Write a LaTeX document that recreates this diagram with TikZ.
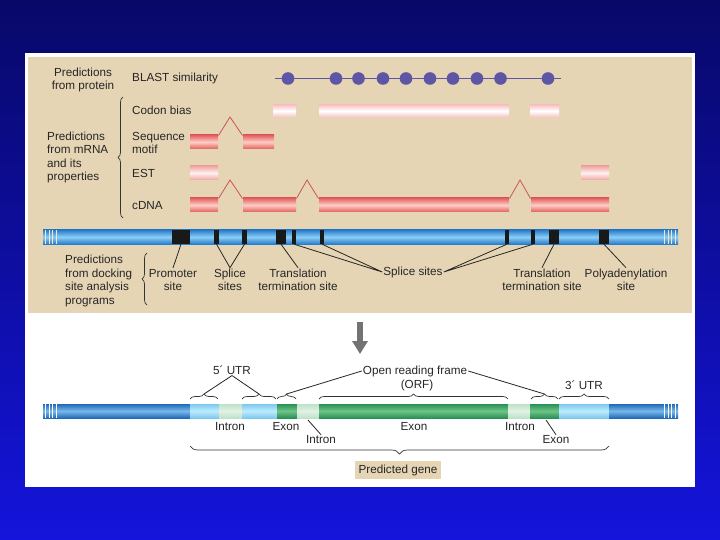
\documentclass[tikz,border=0pt]{standalone}
\usepackage{fontspec}
\setmainfont{Liberation Sans}
\usetikzlibrary{arrows.meta, decorations.pathreplacing, positioning}
\definecolor{slidetop}{RGB}{8,8,105}
\definecolor{slidebot}{RGB}{20,20,220}
\definecolor{tanbg}{RGB}{229,213,181}
\definecolor{blastc}{RGB}{95,85,165}
\definecolor{redc}{RGB}{225,95,95}
\definecolor{redl}{RGB}{255,205,195}
\definecolor{pinkc}{RGB}{250,195,200}
\definecolor{estc}{RGB}{240,165,160}
\definecolor{chromc}{RGB}{40,125,205}
\definecolor{chroml}{RGB}{140,205,245}
\definecolor{darkc}{RGB}{35,105,185}
\definecolor{utrc}{RGB}{125,200,240}
\definecolor{utrl}{RGB}{190,235,252}
\definecolor{exonc}{RGB}{40,145,85}
\definecolor{exonl}{RGB}{110,195,135}
\definecolor{intronc}{RGB}{190,225,200}
\definecolor{intronl}{RGB}{225,243,230}
\tikzstyle{txt} = [inner sep=1pt, font=\fontsize{11.7}{13.6}\selectfont, text=black!85]
\tikzstyle{site} = [rectangle, fill=black!90, inner sep=0pt, minimum height=14pt]
\tikzstyle{pointer} = [black!85, line width=0.8pt]
\tikzstyle{splice} = [redc!90!black, line width=0.8pt]
\tikzstyle{gbrace} = [decorate, decoration={brace, amplitude=5pt}, line width=0.7pt, black!80]
\tikzstyle{redbar} = [top color=redc, bottom color=redc, middle color=redl]
\tikzstyle{pinkbar} = [top color=pinkc, bottom color=pinkc, middle color=white]
\tikzstyle{estbar} = [top color=estc, bottom color=estc, middle color=white!85!estc]
\tikzstyle{chrom} = [top color=chromc, bottom color=chromc, middle color=chroml]
\tikzstyle{dark} = [top color=darkc, bottom color=darkc, middle color=chroml!80!darkc]
\tikzstyle{utr} = [top color=utrc, bottom color=utrc, middle color=utrl]
\tikzstyle{exon} = [top color=exonc, bottom color=exonc, middle color=exonl]
\tikzstyle{intron} = [top color=intronc, bottom color=intronc, middle color=intronl]

\begin{document}
\begin{tikzpicture}[x=1pt, y=-1pt]
    \shade [top color=slidetop, bottom color=slidebot] (0,0) rectangle (720,540);
    \fill [white] (25,53) rectangle (695,487);
    \fill [tanbg] (28,57) rectangle (692,313);

    % predictions from protein
    \node (prot) [txt, align=center] at (83,80) {Predictions\\from protein};
    \node (blast) [txt, anchor=west] at (131,78) {BLAST similarity};
    \draw [blastc, line width=1.5pt] (275,78.5) -- (561,78.5);
    \foreach \x in {288,336,358.5,383,406,430,453,477,500.5,548}
        \fill [blastc] (\x,78.5) circle (6.3pt);

    % predictions from mRNA
    \node (mrna) [txt, anchor=west, align=left] at (46,157.5) {Predictions\\from mRNA\\and its\\properties};
    \draw [gbrace] (123,218) -- (123,97);
    \node (codon) [txt, anchor=west] at (131,110) {Codon bias};
    \node (motif) [txt, anchor=west, align=left] at (131,143) {Sequence\\motif};
    \node (est) [txt, anchor=west] at (131,173) {EST};
    \node (cdna) [txt, anchor=west] at (131,206) {cDNA};

    \shade [pinkbar] (273,105) rectangle (296,117);
    \shade [pinkbar] (319,105) rectangle (509,117);
    \shade [pinkbar] (530,105) rectangle (559,117);

    \shade [redbar] (190,135) rectangle (218,149);
    \shade [redbar] (243,135) rectangle (274,149);
    \draw [splice] (218.5,135.5) -- (230,117) -- (242.5,135.5);

    \shade [estbar] (190,166) rectangle (218,180);
    \shade [estbar] (581,166) rectangle (609,180);

    \shade [redbar] (190,198) rectangle (218,212);
    \shade [redbar] (243,198) rectangle (296,212);
    \shade [redbar] (319,198) rectangle (509,212);
    \shade [redbar] (531,198) rectangle (609,212);
    \draw [splice] (218.5,198.5) -- (230,180) -- (242.5,198.5);
    \draw [splice] (296.5,198.5) -- (307,180) -- (318.5,198.5);
    \draw [splice] (509.5,198.5) -- (520,180) -- (530.5,198.5);

    % chromosome and sites
    \shade [chrom] (43,230) rectangle (678,244);
    \foreach \x in {45.5,49,52.5,56,664.5,668,671.5,675}
        \draw [tanbg!60!white, line width=1pt] (\x,230) -- (\x,244);
    \node (prom) [site, minimum width=18pt] at (181,237) {};
    \node (sp1) [site, minimum width=5pt] at (216.5,237) {};
    \node (sp2) [site, minimum width=5pt] at (244.5,237) {};
    \node (tt1) [site, minimum width=10pt] at (281,237) {};
    \node (sp3) [site, minimum width=4.5pt] at (294,237) {};
    \node (sp4) [site, minimum width=4.5pt] at (322,237) {};
    \node (sp5) [site, minimum width=4.5pt] at (507,237) {};
    \node (sp6) [site, minimum width=4.5pt] at (533,237) {};
    \node (tt2) [site, minimum width=10pt] at (554,237) {};
    \node (poly) [site, minimum width=10pt] at (604,237) {};

    \node (dock) [txt, anchor=west, align=left] at (64,281) {Predictions\\from docking\\site analysis\\programs};
    \draw [gbrace] (147,305) -- (147,253);
    \node (promtxt) [txt, align=center] at (173,280) {Promoter\\site};
    \node (spltxt) [txt, align=center] at (230,280) {Splice\\sites};
    \node (tttxt) [txt, align=center] at (298,280) {Translation\\termination site};
    \node (splmid) [txt] at (413,272) {Splice sites};
    \node (tttxt2) [txt, align=center] at (542,280) {Translation\\termination site};
    \node (polytxt) [txt, align=center] at (626,280) {Polyadenylation\\site};
    \draw [pointer] (prom.south) -- (promtxt.north);
    \draw [pointer] (sp1.south) -- (spltxt.north) -- (sp2.south);
    \draw [pointer] (tt1.south) -- (tttxt.north);
    \draw [pointer] (sp3.south) -- (splmid.west) -- (sp4.south);
    \draw [pointer] (sp5.south) -- (splmid.east) -- (sp6.south);
    \draw [pointer] (tt2.south) -- (tttxt2.north);
    \draw [pointer] (poly.south) -- (polytxt.north);

    % arrow down
    \coordinate (arrtop) at (360,322);
    \coordinate (arrbot) at (360,354);
    \draw [-{Triangle[width=15pt,length=13pt]}, line width=6pt, black!55] (arrtop) -- (arrbot);

    % predicted gene
    \shade [dark] (43,404) rectangle (190,418);
    \shade [utr] (190,404) rectangle (219,418);
    \shade [intron] (219,404) rectangle (242,418);
    \shade [utr] (242,404) rectangle (277,418);
    \shade [exon] (277,404) rectangle (297,418);
    \shade [intron] (297,404) rectangle (319,418);
    \shade [exon] (319,404) rectangle (508,418);
    \shade [intron] (508,404) rectangle (530,418);
    \shade [exon] (530,404) rectangle (559,418);
    \shade [utr] (559,404) rectangle (609,418);
    \shade [dark] (609,404) rectangle (678,418);
    \foreach \x in {45.5,49,52.5,56,664.5,668,671.5,675}
        \draw [white, line width=1pt] (\x,404) -- (\x,418);

    \draw [gbrace] (190,399) -- (218,399);
    \draw [gbrace] (242,399) -- (276,399);
    \draw [gbrace] (277,399) -- (296,399);
    \draw [gbrace] (319,399) -- (508,399);
    \draw [gbrace] (531,399) -- (558,399);
    \draw [gbrace] (559,399) -- (609,399);
    \coordinate (u1) at (204,394);
    \coordinate (u2) at (259,394);
    \coordinate (o1) at (286.5,394);
    \coordinate (o3) at (544.5,394);

    \node (utr5) [txt] at (232,370) {5´ UTR};
    \node (orf) [txt] at (415,371) {Open reading frame};
    \node (orfb) [txt] at (417,385) {(ORF)};
    \node (utr3) [txt] at (584,385) {3´ UTR};
    \draw [pointer] (u1) -- (utr5.south) -- (u2);
    \draw [pointer] (o1) -- (orf.west);
    \draw [pointer] (o3) -- (orf.east);

    \node (intr1) [txt] at (230,427) {Intron};
    \node (ex1) [txt] at (286,427) {Exon};
    \node (intr2) [txt] at (321,440) {Intron};
    \node (ex2) [txt] at (414,427) {Exon};
    \node (intr3) [txt] at (520,427) {Intron};
    \node (ex3) [txt] at (556,440) {Exon};
    \coordinate (i2top) at (308,420);
    \coordinate (e3top) at (546,420);
    \draw [pointer] (i2top) -- (intr2.north);
    \draw [pointer] (e3top) -- (ex3.north);

    \draw [gbrace, decoration={amplitude=8pt}] (609,446) -- (190,446);
    \node (gene) [txt, fill=tanbg, inner sep=4pt] at (398,470) {Predicted gene};
\end{tikzpicture}
\end{document}
